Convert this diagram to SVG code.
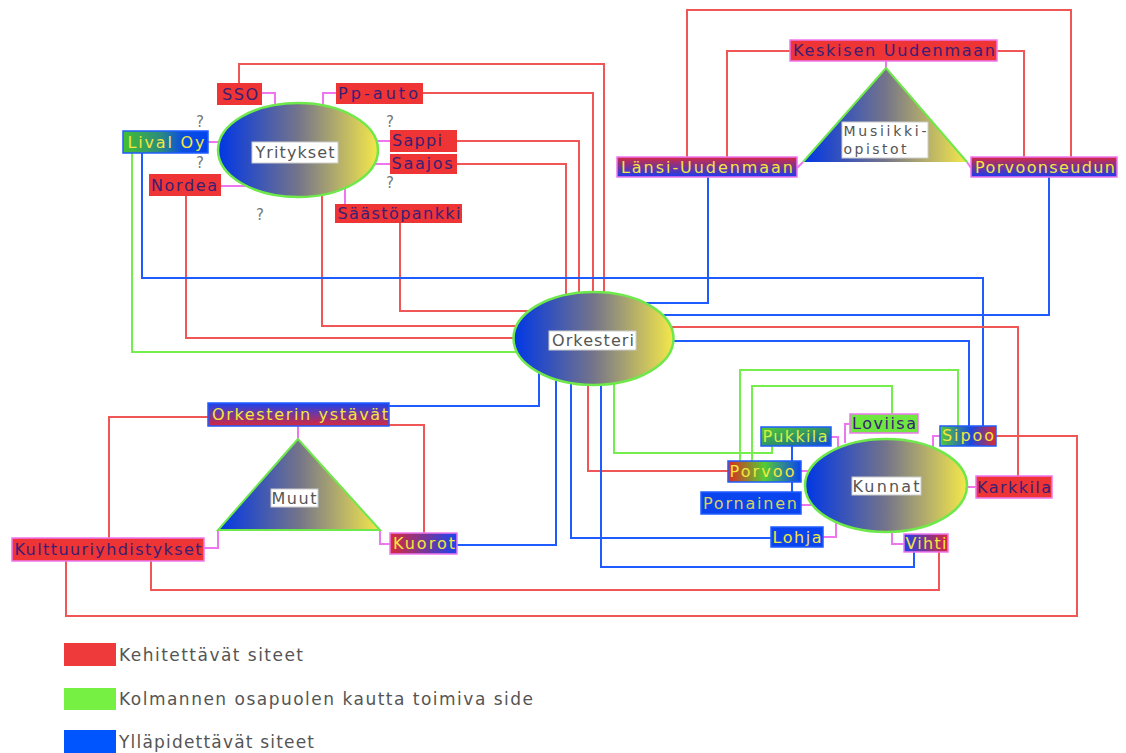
<svg xmlns="http://www.w3.org/2000/svg" width="1126" height="753" viewBox="0 0 1126 753">
<defs>
<linearGradient id="ell" x1="0" y1="0" x2="1" y2="0">
<stop offset="0" stop-color="#0036e6"/><stop offset="0.5" stop-color="#74748a"/><stop offset="1" stop-color="#f4e84a"/>
</linearGradient>
<linearGradient id="gLival" x1="0" y1="0" x2="1" y2="0">
<stop offset="0" stop-color="#44c030"/><stop offset="0.45" stop-color="#2a8a80"/><stop offset="0.7" stop-color="#0a4ee0"/><stop offset="1" stop-color="#0044ee"/>
</linearGradient>
<linearGradient id="gRB" x1="0" y1="0" x2="0" y2="1">
<stop offset="0" stop-color="#d42a40"/><stop offset="1" stop-color="#1a3cf0"/>
</linearGradient>
<linearGradient id="gBR" x1="0" y1="0" x2="0" y2="1">
<stop offset="0" stop-color="#1a44f0"/><stop offset="1" stop-color="#d8283c"/>
</linearGradient>
<linearGradient id="gKuorot" x1="0" y1="0" x2="1" y2="0">
<stop offset="0" stop-color="#d82a3a"/><stop offset="1" stop-color="#1a44f0"/>
</linearGradient>
<linearGradient id="gVihti" x1="0" y1="0" x2="1" y2="0">
<stop offset="0" stop-color="#2040e8"/><stop offset="1" stop-color="#d82a3a"/>
</linearGradient>
<linearGradient id="gPukkila" x1="0" y1="0" x2="1" y2="1">
<stop offset="0" stop-color="#55cc33"/><stop offset="0.6" stop-color="#2a8a70"/><stop offset="1" stop-color="#0a44ee"/>
</linearGradient>
<linearGradient id="gSipoo" x1="0" y1="0" x2="1" y2="0">
<stop offset="0" stop-color="#55cc33"/><stop offset="0.55" stop-color="#1a48e0"/><stop offset="1" stop-color="#dd2a30"/>
</linearGradient>
<linearGradient id="gPorvoo" x1="0" y1="0" x2="1" y2="0">
<stop offset="0" stop-color="#dd2a22"/><stop offset="0.5" stop-color="#55cc33"/><stop offset="1" stop-color="#0a44ee"/>
</linearGradient>
<style>
.r{stroke:#f05656;stroke-width:2;fill:none}
.b{stroke:#1f5cff;stroke-width:2;fill:none}
.g{stroke:#74ee4c;stroke-width:2;fill:none}
.p{stroke:#ee77ee;stroke-width:2;fill:none}
.t{font-family:"DejaVu Sans","Liberation Sans",sans-serif;font-size:16px;text-anchor:middle}
.t2{font-family:"DejaVu Sans","Liberation Sans",sans-serif;font-size:14px;text-anchor:middle}
.dk{fill:#3a2075}
.yl{fill:#f2e640}
.lb{fill:#555555}
.q{font-family:"DejaVu Sans",sans-serif;font-size:15px;fill:#777;text-anchor:middle}
.redbox{fill:#ee3434}
.pk{stroke:#ee77ee;stroke-width:1.5}
.bb{stroke:#1f5cff;stroke-width:1.5}
.wl{fill:#ffffff;stroke:#cccccc;stroke-width:1}
.el{fill:url(#ell);stroke:#6ee84a;stroke-width:2.5}
.lg{font-family:"DejaVu Sans","Liberation Sans",sans-serif;font-size:17px;fill:#555555}
</style>
</defs>
<rect width="1126" height="753" fill="#ffffff"/>

<g id="connectors">
<polyline class="r" points="239,83 239,64 604,64 604,293"/>
<polyline class="r" points="423,93 593,93 593,292"/>
<polyline class="r" points="457,141 579,141 579,293"/>
<polyline class="r" points="457,164 566,164 566,295"/>
<polyline class="r" points="400,223 400,311 530,311"/>
<polyline class="r" points="322,196 322,326 517,326"/>
<polyline class="r" points="186,196 186,338 514,338"/>
<polyline class="g" points="132,153 132,352 518,352"/>
<polyline class="b" points="142,153 142,278 983,278 983,426"/>
<polyline class="b" points="708,177 708,303 645,303"/>
<polyline class="b" points="1049,177 1049,315 663,315"/>
<polyline class="r" points="727,157 727,51 790,51"/>
<polyline class="r" points="997,51 1024,51 1024,157"/>
<polyline class="r" points="687,157 687,10 1071,10 1071,157"/>
<polyline class="r" points="671,327 1018,327 1018,476"/>
<polyline class="b" points="673,341 969,341 969,426"/>
<polyline class="b" points="539,372 539,406 389,406"/>
<polyline class="b" points="556,380 556,545 457,545"/>
<polyline class="b" points="571,383 571,538 771,538"/>
<polyline class="r" points="588,385 588,471 728,471"/>
<polyline class="b" points="601,385 601,567 914,567 914,552"/>
<polyline class="g" points="614,383 614,453 772,453 772,446"/>
<polyline class="g" points="740,461 740,370 958,370 958,426"/>
<polyline class="g" points="752,461 752,386 892,386 892,414"/>
<polyline class="b" points="792,446 792,492"/>
<polyline class="r" points="208,417 109,417 109,538"/>
<polyline class="r" points="389,425 424,425 424,533"/>
<polyline class="r" points="996,436 1077,436 1077,616 66,616 66,561"/>
<polyline class="r" points="939,552 939,590 151,590 151,561"/>
<polyline class="p" points="262,93 275,93 275,105"/>
<polyline class="p" points="336,93 323,93 323,105"/>
<polyline class="p" points="208,142 219,142"/>
<polyline class="p" points="377,141 390,141"/>
<polyline class="p" points="373,164 390,164"/>
<polyline class="p" points="221,186 246,186"/>
<polyline class="p" points="345,204 345,188"/>
<polyline class="p" points="886,61 886,68"/>
<polyline class="p" points="797,168 803,162"/>
<polyline class="p" points="971,168 967,162"/>
<polyline class="p" points="298,426 298,439"/>
<polyline class="p" points="204,548 218,548 218,530"/>
<polyline class="p" points="390,544 380,544 380,530"/>
<polyline class="p" points="831,437 838,437 838,447"/>
<polyline class="p" points="850,424 845,424 845,443"/>
<polyline class="p" points="940,436 933,436 933,447"/>
<polyline class="p" points="801,471 811,471"/>
<polyline class="p" points="801,505 812,505"/>
<polyline class="p" points="976,487 967,487"/>
<polyline class="p" points="823,537 836,537 836,521"/>
<polyline class="p" points="904,544 892,544 892,532"/>
</g>

<g id="yritykset">
<ellipse class="el" cx="298" cy="150" rx="80" ry="47"/>
<rect class="wl" x="252" y="142" width="86" height="21"/>
<text class="t lb" x="295" y="158" textLength="79">Yritykset</text>
</g>
<g id="q-marks">
<text class="q" x="200" y="127">?</text>
<text class="q" x="200" y="168">?</text>
<text class="q" x="390" y="127">?</text>
<text class="q" x="390" y="188">?</text>
<text class="q" x="260" y="220">?</text>
</g>
<g id="sso"><rect class="redbox" x="217" y="83" width="45" height="22"/><text class="t dk" x="240" y="100" textLength="36">SSO</text></g>
<g id="pp-auto"><rect class="redbox" x="336" y="83" width="87" height="21"/><text class="t dk" x="378" y="99" textLength="80">Pp-auto</text></g>
<g id="sappi"><rect class="redbox" x="390" y="130" width="67" height="22"/><text class="t dk" x="417" y="146" textLength="50">Sappi</text></g>
<g id="saajos"><rect class="redbox" x="390" y="154" width="67" height="20"/><text class="t dk" x="422" y="169" textLength="61">Saajos</text></g>
<g id="nordea"><rect class="redbox" x="149" y="174" width="72" height="22"/><text class="t dk" x="184" y="191" textLength="66">Nordea</text></g>
<g id="saastopankki"><rect class="redbox" x="335" y="204" width="127" height="19"/><text class="t dk" x="399" y="219" textLength="123">Säästöpankki</text></g>
<g id="lival-oy"><rect x="123" y="131" width="85" height="22" fill="url(#gLival)" class="bb"/><text class="t yl" x="166" y="148" textLength="77">Lival Oy</text></g>

<g id="musiikkiopistot">
<polygon points="886,68 803,162 967,162" fill="url(#ell)"/>
<polyline points="803,162 886,68 967,162" fill="none" stroke="#6ee84a" stroke-width="2"/>
<rect class="wl" x="842" y="122" width="86" height="36"/>
<text class="t2 lb" x="885" y="136" textLength="83">Musiikki-</text>
<text class="t2 lb" x="875" y="154" textLength="63">opistot</text>
</g>
<g id="keskisen"><rect class="redbox pk" x="790" y="40" width="207" height="21"/><text class="t dk" x="894" y="56" textLength="202">Keskisen Uudenmaan</text></g>
<g id="lansi"><rect class="pk" x="617" y="157" width="180" height="20" fill="url(#gRB)"/><text class="t yl" x="707" y="173" textLength="172">Länsi-Uudenmaan</text></g>
<g id="porvoonseudun"><rect class="pk" x="971" y="157" width="146" height="20" fill="url(#gRB)"/><text class="t yl" x="1045" y="173" textLength="140">Porvoonseudun</text></g>

<g id="orkesteri">
<ellipse class="el" cx="593.5" cy="338.5" rx="80" ry="46.5"/>
<rect class="wl" x="549" y="331" width="87" height="19"/>
<text class="t lb" x="593" y="346" textLength="82">Orkesteri</text>
</g>

<g id="muut">
<polygon points="298,439 218,530 380,530" fill="url(#ell)" stroke="#6ee84a" stroke-width="2"/>
<rect class="wl" x="271" y="489" width="47" height="18"/>
<text class="t lb" x="294" y="504" textLength="45">Muut</text>
</g>
<g id="orkesterin-ystavat"><rect class="bb" x="208" y="403" width="181" height="23" fill="url(#gBR)"/><text class="t yl" x="300" y="420" textLength="176">Orkesterin ystävät</text></g>
<g id="kulttuuriyhdistykset"><rect class="redbox pk" x="12" y="538" width="192" height="23"/><text class="t dk" x="108" y="555" textLength="187">Kulttuuriyhdistykset</text></g>
<g id="kuorot"><rect class="pk" x="390" y="533" width="67" height="21" fill="url(#gKuorot)"/><text class="t yl" x="424" y="549" textLength="62">Kuorot</text></g>

<g id="kunnat">
<ellipse class="el" cx="886" cy="485.5" rx="81" ry="46.5"/>
<rect class="wl" x="852" y="477" width="69" height="18"/>
<text class="t lb" x="886" y="492" textLength="67">Kunnat</text>
</g>
<g id="pukkila"><rect class="bb" x="761" y="427" width="70" height="19" fill="url(#gPukkila)"/><text class="t" fill="#d8ee40" x="795" y="442" textLength="65">Pukkila</text></g>
<g id="loviisa"><rect class="pk" x="850" y="414" width="68" height="19" fill="#6ee840"/><text class="t dk" x="884" y="429" textLength="64">Loviisa</text></g>
<g id="sipoo"><rect class="bb" x="940" y="426" width="56" height="20" fill="url(#gSipoo)"/><text class="t yl" x="968" y="441" textLength="52">Sipoo</text></g>
<g id="porvoo"><rect class="bb" x="728" y="461" width="73" height="21" fill="url(#gPorvoo)"/><text class="t yl" x="762" y="477" textLength="65">Porvoo</text></g>
<g id="pornainen"><rect class="bb" x="701" y="492" width="100" height="22" fill="#0a44ee"/><text class="t" fill="#d8d060" x="750" y="509" textLength="94">Pornainen</text></g>
<g id="karkkila"><rect class="redbox pk" x="976" y="476" width="76" height="22"/><text class="t dk" x="1014" y="493" textLength="74">Karkkila</text></g>
<g id="lohja"><rect class="bb" x="771" y="527" width="52" height="20" fill="#0a44ee"/><text class="t yl" x="797" y="543" textLength="49">Lohja</text></g>
<g id="vihti"><rect class="pk" x="904" y="534" width="44" height="18" fill="url(#gVihti)"/><text class="t yl" x="926" y="549" textLength="41">Vihti</text></g>

<g id="legend">
<rect x="64" y="643" width="52" height="23" fill="#ee3a3a"/>
<text class="lg" x="119" y="661" textLength="184">Kehitettävät siteet</text>
<rect x="64" y="688" width="52" height="22" fill="#77f044"/>
<text class="lg" x="119" y="705" textLength="414">Kolmannen osapuolen kautta toimiva side</text>
<rect x="64" y="730" width="52" height="23" fill="#0055ff"/>
<text class="lg" x="119" y="748" textLength="195">Ylläpidettävät siteet</text>
</g>
</svg>
